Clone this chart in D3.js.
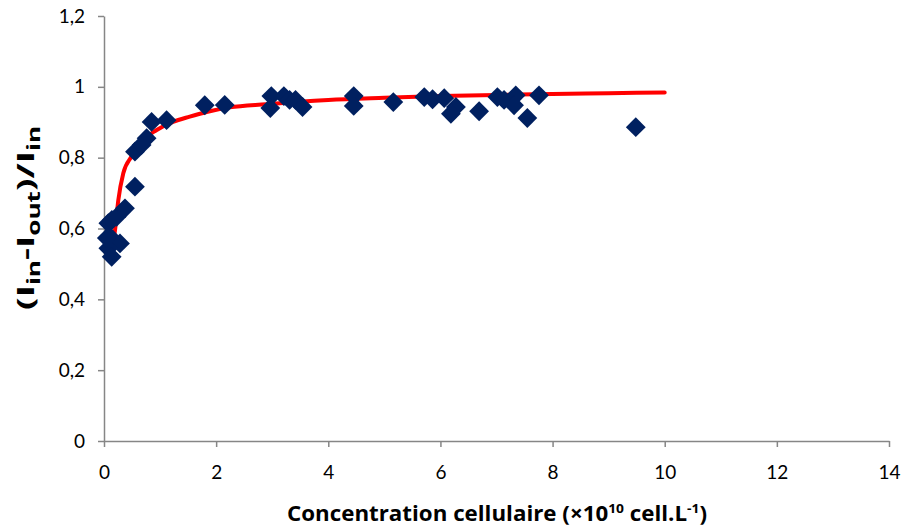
<!DOCTYPE html>
<html><head><meta charset="utf-8">
<script src="https://cdn.jsdelivr.net/npm/d3@7"></script>
<style>body{margin:0;background:#fff;} svg{display:block;font-family:"Lato","Open Sans",sans-serif;}</style>
</head><body>
<svg id="c" width="904" height="531"></svg>
<script>
// Measured points
const concX = [0.077,0.14,0.226,0.374,0.137,0.285,0.077,0.137,0.05,0.552,0.552,0.671,0.76,0.849,1.116,1.797,2.153,2.984,2.966,3.208,3.31,3.416,3.541,4.454,4.454,5.16,5.712,5.86,6.068,6.276,6.187,6.69,7.016,7.135,7.343,7.313,7.55,7.758,9.484];
const ratioY = [0.615,0.624,0.633,0.657,0.572,0.558,0.544,0.52,0.573,0.718,0.817,0.836,0.855,0.901,0.906,0.948,0.949,0.974,0.94,0.974,0.963,0.963,0.943,0.974,0.946,0.957,0.971,0.965,0.968,0.943,0.924,0.931,0.971,0.963,0.976,0.948,0.912,0.976,0.886];
// Fitted curve
const fitX = [0.15,0.2,0.255,0.344,0.49,0.7,0.94,1.23,1.53,1.83,2.24,2.89,4,5,6,7,8,9,10];
const fitY = [0.545,0.6,0.68,0.756,0.803,0.85,0.878,0.901,0.916,0.929,0.942,0.951,0.963,0.969,0.974,0.977,0.98,0.982,0.984];
const xTicks = [0,2,4,6,8,10,12,14];
const yTicks = [0,0.2,0.4,0.6,0.8,1,1.2];

const svg = d3.select("#c");
const L = 104, R = 889, T = 16, B = 441;
const x = d3.scaleLinear().domain([0,14]).range([L,R]);
const y = d3.scaleLinear().domain([0,1.2]).range([B,T]);
const fmt = d => d3.format("")(d).replace(".", ",");

const xAxis = svg.append("g").attr("transform",`translate(0,${B})`)
  .call(d3.axisBottom(x).tickValues(xTicks).tickSize(6).tickSizeOuter(0).tickPadding(19).tickFormat(fmt));
const yAxis = svg.append("g").attr("transform",`translate(${L},0)`)
  .call(d3.axisLeft(y).tickValues(yTicks).tickSize(6).tickSizeOuter(0).tickPadding(13).tickFormat(fmt));
[xAxis,yAxis].forEach(a=>{
  a.selectAll("path,line").attr("stroke","#868686").attr("stroke-width",1.5);
  a.selectAll("text").attr("fill","#000").style("font-size","19px").style("font-family","Lato, 'Open Sans', sans-serif");
});

// curve
const line = d3.line().x((d,i)=>x(fitX[i])).y((d,i)=>y(fitY[i])).curve(d3.curveMonotoneX);
svg.append("path").datum(fitX).attr("d",line).attr("fill","none")
  .attr("stroke","#ff0000").attr("stroke-width",4).attr("stroke-linecap","round");

// diamonds
const sym = d3.symbol(d3.symbolSquare, 196);
svg.append("g").selectAll("path").data(concX).join("path")
  .attr("d", sym)
  .attr("transform",(d,i)=>`translate(${x(d)},${y(ratioY[i])}) rotate(45)`)
  .attr("fill","#002060");

// x title
const xt = svg.append("text").attr("x",497).attr("y",521).attr("text-anchor","middle")
  .attr("textLength",420).attr("lengthAdjust","spacingAndGlyphs")
  .style("font-family","'Open Sans', sans-serif")
  .style("font-size","21px").style("font-weight","bold");
xt.append("tspan").text("Concentration cellulaire (×10");
xt.append("tspan").text("10").attr("dy",-8).style("font-size","13px");
xt.append("tspan").text(" cell.L").attr("dy",8);
xt.append("tspan").text("-1").attr("dy",-8).style("font-size","13px");
xt.append("tspan").text(")").attr("dy",8);

// y title
const yt = svg.append("text").attr("transform",`translate(34,${y(0.63)}) rotate(-90)`).attr("text-anchor","middle")
  .attr("textLength",184).attr("lengthAdjust","spacingAndGlyphs")
  .style("font-family","'Open Sans', sans-serif")
  .style("font-size","24px").style("font-weight","bold");
yt.append("tspan").text("(I");
yt.append("tspan").text("in").attr("dy",6).style("font-size","17px");
yt.append("tspan").text("-I").attr("dy",-6);
yt.append("tspan").text("out").attr("dy",6).style("font-size","17px");
yt.append("tspan").text(")/I").attr("dy",-6);
yt.append("tspan").text("in").attr("dy",6).style("font-size","17px");
</script>
</body></html>
